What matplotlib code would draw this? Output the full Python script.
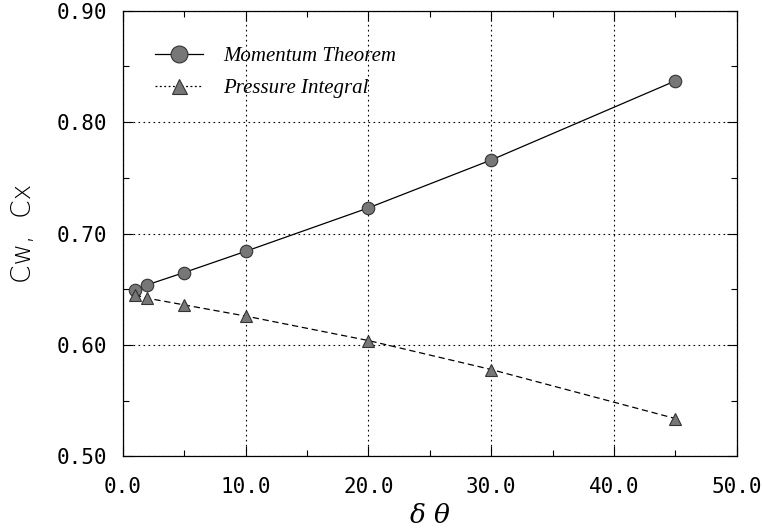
import matplotlib
matplotlib.use('Agg')
import matplotlib.pyplot as plt
from matplotlib.ticker import MultipleLocator, FormatStrFormatter

# incidence increment and drag coefficients
dtheta = [1.0, 2.0, 5.0, 10.0, 20.0, 30.0, 45.0]
cw_momentum = [0.649, 0.654, 0.665, 0.684, 0.723, 0.766, 0.837]
cx_pressure = [0.645, 0.642, 0.636, 0.626, 0.604, 0.578, 0.534]

plt.rcParams['mathtext.fontset'] = 'dejavuserif'

fig = plt.figure(figsize=(7.62, 5.32), dpi=100, facecolor='white')
ax = fig.add_axes([0.161, 0.142, 0.806, 0.838])

ax.plot(dtheta, cw_momentum, '-', color='black', lw=0.9,
        marker='o', ms=9, mfc='#777777', mec='#333333', mew=0.8,
        label='Momentum Theorem')
ax.plot(dtheta, cx_pressure, color='black', lw=0.9, dashes=(5, 3),
        marker='^', ms=8, mfc='#777777', mec='#333333', mew=0.8,
        label='Pressure Integral')

ax.set_xlim(0, 50)
ax.set_ylim(0.5, 0.9)
ax.xaxis.set_major_locator(MultipleLocator(10))
ax.xaxis.set_minor_locator(MultipleLocator(5))
ax.yaxis.set_major_locator(MultipleLocator(0.1))
ax.yaxis.set_minor_locator(MultipleLocator(0.05))
ax.xaxis.set_major_formatter(FormatStrFormatter('%.1f'))
ax.yaxis.set_major_formatter(FormatStrFormatter('%.2f'))
ax.tick_params(which='both', direction='in', top=True, right=True, width=0.8)
ax.tick_params(which='major', length=7)
ax.tick_params(which='minor', length=4)
ax.tick_params(axis='x', pad=15)
ax.tick_params(axis='y', pad=11)
for lab in ax.get_xticklabels() + ax.get_yticklabels():
    lab.set_family('DejaVu Sans Mono')
    lab.set_fontsize(15)
for sp in ax.spines.values():
    sp.set_linewidth(0.9)

ax.grid(True, which='major', color='black', ls=(0, (1.5, 3)), lw=0.8)

ax.set_xlabel(r'$\delta\ \theta$', fontsize=19, labelpad=4)
ax.set_ylabel('Cw,  Cx', fontsize=19, family='DejaVu Sans', labelpad=15,
              fontweight='light')

leg = ax.legend(loc='upper left', bbox_to_anchor=(0.052, 0.92), frameon=False,
                prop={'family': 'Liberation Serif', 'style': 'italic', 'size': 15},
                handlelength=2.3, handletextpad=1.0, labelspacing=0.6,
                borderpad=0, borderaxespad=0, markerscale=1.35)
leg.legend_handles[1].set_dashes((1.5, 2))

fig.savefig('out.png', dpi=100)
